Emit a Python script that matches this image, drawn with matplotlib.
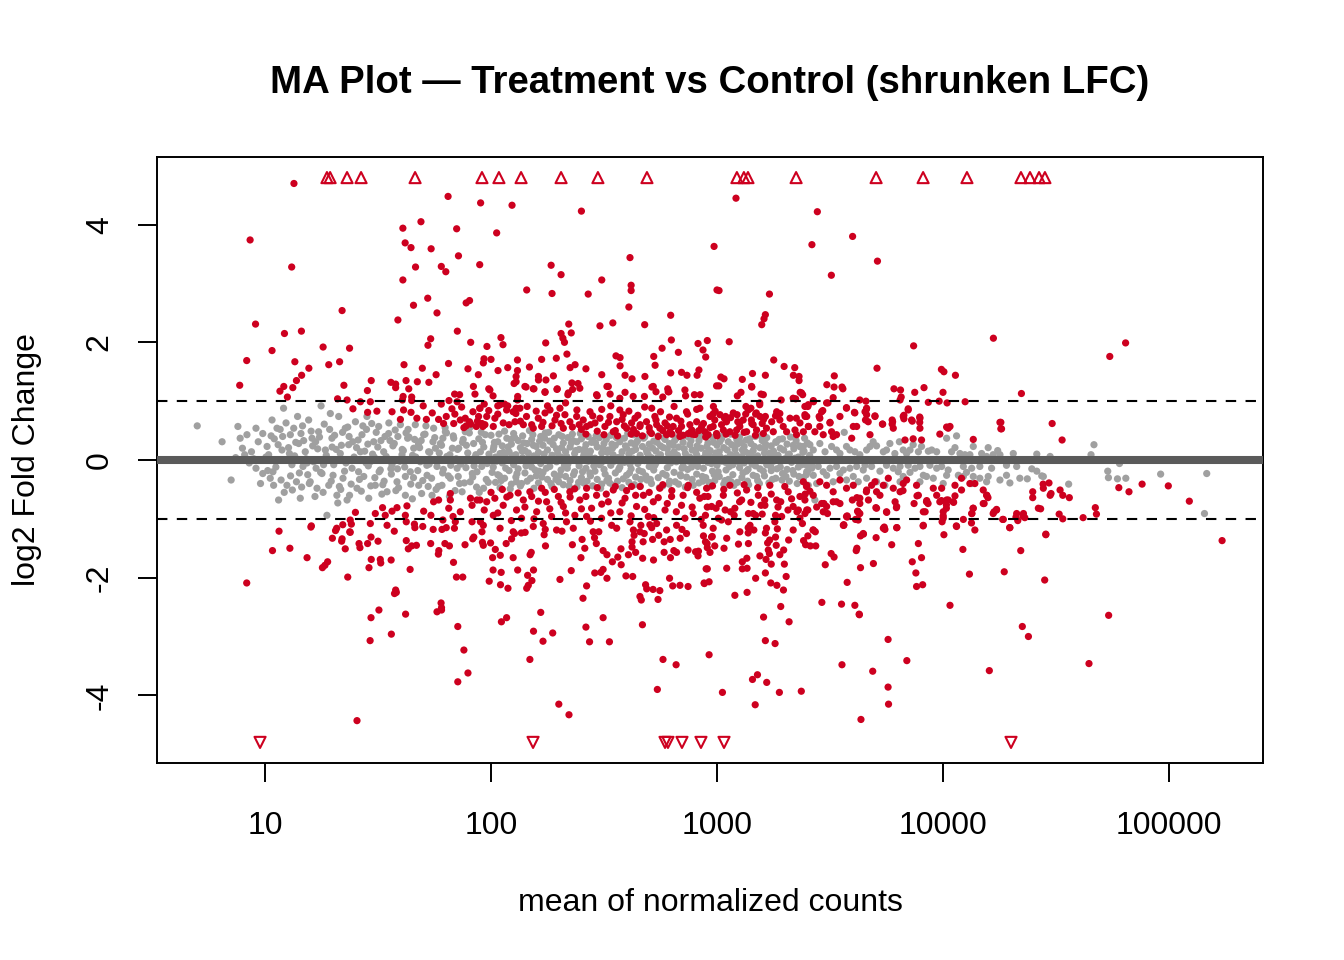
import numpy as np
import matplotlib
matplotlib.use("Agg")
import matplotlib.pyplot as plt
from matplotlib.ticker import NullLocator

plt.rcParams['font.family'] = ['Liberation Sans', 'DejaVu Sans']
plt.rcParams['axes.unicode_minus'] = False

# values: (log10 of mean normalized count, log2 fold change)

# genes beyond the y limit, drawn as open triangles at the limit
lfc_cap = 4.8
capped_up_log10 = [1.274, 1.288, 1.363, 1.425, 1.664, 1.960, 2.035, 2.133, 2.310, 2.473, 2.690,
                   3.088, 3.119, 3.137, 3.350, 3.704, 3.912, 4.106, 4.345, 4.385, 4.425, 4.451]
capped_down_log10 = [0.978, 2.186, 2.770, 2.783, 2.845, 2.929, 3.031, 4.301]

# not significant (grey)
nonsig_low = [
    (0.70, 0.58), (0.81, 0.31), (0.85, -0.34), (0.88, 0.57), (0.89, 0.37), (0.90, 0.20), (0.92, 0.43),
    (0.91, 0.09), (0.94, 0.14), (0.96, 0.54), (0.96, -0.14), (0.97, 0.31), (0.99, 0.45), (0.99, -0.23),
    (0.93, -0.05), (0.95, 0.02), (0.98, -0.40), (0.87, 0.04),
    (1.009, 0.23), (1.016, 0.09), (1.031, 0.68), (1.038, -0.43), (1.053, 0.54), (1.06, -0.68), (1.075, 0.17),
    (1.082, 0.88), (1.09, 0.0), (1.097, -0.43), (1.112, 0.43), (1.119, -0.08), (1.127, 0.54), (1.139, -0.37),
    (1.149, 0.28), (1.156, -0.65), (1.168, -0.11), (1.178, 0.14), (1.193, 0.68), (1.20, -0.37), (1.208, 0.37),
    (1.215, -0.03), (1.23, -0.48), (1.237, 0.48), (1.248, 0.92), (1.252, -0.23), (1.267, 0.17), (1.274, -0.94),
    (1.282, -0.43), (1.289, 0.79), (1.296, 0.37), (1.304, -0.08), (1.318, -0.60), (1.326, 0.74), (1.333, 0.11),
    (1.345, -0.31), (1.355, 0.54), (1.363, -0.68), (1.37, 0.26), (1.385, -0.14), (1.40, 0.65), (1.407, -0.48),
    (1.422, 0.14), (1.429, 0.43), (1.437, -0.28), (1.451, 0.74), (1.459, -0.65), (1.466, -0.03), (1.481, 0.31),
    (1.488, -0.43), (1.503, 0.57), (1.51, -0.17), (1.525, 0.14), (1.54, -0.54), (1.547, 0.45), (1.562, -0.08),
    (1.572, 0.28), (1.584, -0.37), (1.599, 0.60), (1.606, 0.09), (1.621, -0.60), (1.631, 0.37), (1.643, -0.20),
    (1.658, 0.20), (1.665, 0.60), (1.68, -0.43), (1.687, -0.03), (1.702, 0.43), (1.717, -0.26), (1.724, 0.14),
    (1.739, -0.60), (1.746, 0.54), (1.761, -0.11), (1.776, 0.28), (1.783, -0.43), (1.798, 0.48), (1.805, 0.06),
    (1.82, -0.31), (1.835, 0.37), (1.85, -0.14), (1.857, 0.20), (1.872, -0.54), (1.886, 0.48), (1.894, 0.0),
    (1.908, -0.37), (1.923, 0.28), (1.938, -0.20), (1.953, 0.14), (1.967, -0.48), (1.975, 0.43),
    (1.004, 0.05), (1.023, -0.31), (1.041, 0.36), (1.048, -0.12), (1.067, 0.52), (1.085, -0.55), (1.104, 0.21),
    (1.113, -0.27), (1.131, 0.07), (1.144, 0.74), (1.162, -0.46), (1.171, 0.33), (1.186, -0.05), (1.204, 0.49),
    (1.221, -0.62), (1.233, 0.19), (1.246, -0.21), (1.262, 0.61), (1.278, 0.02), (1.293, -0.36), (1.308, 0.42),
    (1.322, -0.73), (1.338, 0.25), (1.352, -0.19), (1.366, 0.56), (1.381, -0.41), (1.394, 0.05), (1.412, 0.34),
    (1.426, -0.53), (1.441, 0.15), (1.457, -0.10), (1.472, 0.62), (1.486, -0.30), (1.499, 0.22), (1.517, -0.58),
    (1.531, 0.40), (1.545, 0.01), (1.559, -0.24), (1.576, 0.51), (1.591, -0.47), (1.607, 0.18), (1.618, -0.12),
    (1.637, 0.39), (1.652, -0.66), (1.667, 0.05), (1.679, 0.27), (1.698, -0.35), (1.712, 0.58), (1.726, -0.07),
    (1.743, 0.31), (1.757, -0.50), (1.771, 0.12), (1.786, -0.22), (1.803, 0.46), (1.816, -0.62), (1.829, 0.20),
    (1.846, 0.02), (1.861, -0.40), (1.877, 0.35), (1.889, -0.13), (1.906, 0.55), (1.919, -0.29), (1.933, 0.09),
    (1.948, -0.55), (1.962, 0.30), (1.983, -0.06),
    (1.405, 0.21), (1.418, -0.33), (1.433, 0.58), (1.447, -0.05), (1.455, 0.27), (1.468, -0.44), (1.476, 0.10),
    (1.492, 0.47), (1.505, -0.20), (1.513, 0.33), (1.527, -0.36), (1.536, 0.06), (1.548, 0.63), (1.557, -0.15),
    (1.566, 0.24), (1.579, -0.52), (1.588, 0.40), (1.597, -0.02), (1.612, 0.16), (1.621, -0.28), (1.633, 0.52),
    (1.645, -0.41), (1.653, 0.08), (1.662, 0.35), (1.676, -0.18), (1.684, 0.21), (1.693, -0.57), (1.708, 0.44),
    (1.716, -0.09), (1.729, 0.13), (1.737, -0.31), (1.751, 0.38), (1.758, 0.00), (1.767, -0.45), (1.781, 0.25),
    (1.789, -0.16), (1.797, 0.55), (1.811, -0.27), (1.818, 0.09), (1.833, 0.41), (1.841, -0.52), (1.852, 0.18),
    (1.866, -0.07), (1.874, 0.30), (1.882, -0.39), (1.897, 0.12), (1.904, 0.46), (1.917, -0.23), (1.928, 0.04),
    (1.936, -0.46), (1.946, 0.36), (1.959, -0.11), (1.968, 0.22), (1.979, -0.33), (1.991, 0.10),
    (1.012, -0.18), (1.027, 0.41), (1.044, -0.02), (1.058, 0.26), (1.071, -0.34), (1.093, 0.63), (1.108, 0.11),
    (1.121, -0.51), (1.136, 0.30), (1.152, -0.22), (1.166, 0.58), (1.181, 0.02), (1.196, -0.40), (1.211, 0.24),
    (1.226, -0.14), (1.241, 0.39), (1.257, -0.55), (1.271, 0.08), (1.286, 0.52), (1.301, -0.26), (1.315, 0.18),
    (1.329, -0.45), (1.343, 0.47), (1.358, -0.05), (1.374, -0.60), (1.388, 0.31),
    (1.035, -0.20), (1.078, 0.40), (1.117, -0.02), (1.159, 0.45), (1.189, -0.25), (1.224, 0.31), (1.259, -0.08),
    (1.297, 0.22), (1.335, -0.50), (1.372, 0.40), (1.414, -0.20), (1.449, 0.52), (1.483, 0.05), (1.521, -0.42),
    (1.553, 0.33), (1.586, -0.15), (1.624, 0.46), (1.657, -0.30), (1.691, 0.33), (1.722, -0.45), (1.754, 0.20),
    (1.787, 0.37), (1.822, -0.09), (1.855, -0.28), (1.891, 0.25), (1.925, -0.10), (1.957, 0.47), (1.988, -0.38),
]

nonsig_mid = [
    (2.00, 0.42), (2.01, -0.12), (2.01, 0.18), (2.02, -0.38), (2.02, 0.05), (2.03, 0.31), (2.03, -0.25),
    (2.04, 0.11), (2.04, -0.47), (2.05, 0.24), (2.05, -0.05), (2.06, 0.49), (2.06, -0.31), (2.07, 0.02),
    (2.07, 0.37), (2.08, -0.18), (2.08, 0.14), (2.09, -0.41), (2.09, 0.27), (2.10, -0.08), (2.10, 0.45),
    (2.11, -0.29), (2.11, 0.09), (2.12, 0.33), (2.12, -0.15), (2.13, 0.21), (2.13, -0.44), (2.14, 0.04),
    (2.14, 0.41), (2.15, -0.22), (2.15, 0.16), (2.16, -0.36), (2.16, 0.28), (2.17, -0.02), (2.17, 0.50),
    (2.18, -0.12), (2.18, 0.35), (2.19, -0.48), (2.19, 0.07), (2.20, 0.23), (2.20, -0.27),
    (2.21, 0.13), (2.21, -0.39), (2.22, 0.40), (2.22, -0.06), (2.23, 0.25), (2.23, -0.21), (2.24, 0.01),
    (2.24, 0.46), (2.25, -0.33), (2.25, 0.17), (2.26, -0.11), (2.26, 0.32), (2.27, -0.45), (2.27, 0.08),
    (2.28, 0.37), (2.28, -0.24), (2.29, 0.19), (2.29, -0.03), (2.30, -0.37), (2.30, 0.43),
    (2.31, 0.05), (2.31, -0.17), (2.32, 0.29), (2.32, -0.42), (2.33, 0.14), (2.33, -0.28), (2.34, 0.38),
    (2.34, -0.07), (2.35, 0.22), (2.35, -0.35), (2.36, 0.01), (2.36, 0.44), (2.37, -0.20), (2.37, 0.11),
    (2.38, -0.46), (2.38, 0.31), (2.39, -0.10), (2.39, 0.18), (2.40, -0.30), (2.40, 0.36),
    (2.41, 0.07), (2.41, -0.39), (2.42, 0.26), (2.42, -0.14), (2.43, 0.40), (2.43, -0.02), (2.44, -0.27),
    (2.44, 0.15), (2.45, 0.33), (2.45, -0.44), (2.46, 0.03), (2.46, -0.19), (2.47, 0.22), (2.47, -0.33),
    (2.48, 0.38), (2.48, -0.08), (2.49, 0.12), (2.49, -0.41), (2.50, 0.28), (2.50, -0.16),
    (2.51, 0.00), (2.51, 0.35), (2.52, -0.31), (2.52, 0.17), (2.53, -0.09), (2.53, 0.42), (2.54, -0.43),
    (2.54, 0.09), (2.55, 0.25), (2.55, -0.22), (2.56, 0.04), (2.56, -0.36), (2.57, 0.31), (2.57, -0.12),
    (2.58, 0.14), (2.58, -0.47), (2.59, 0.37), (2.59, -0.04), (2.60, 0.20), (2.60, -0.26),
    (2.61, -0.38), (2.61, 0.10), (2.62, 0.29), (2.62, -0.15), (2.63, 0.02), (2.63, 0.43), (2.64, -0.29),
    (2.64, 0.18), (2.65, -0.06), (2.65, 0.34), (2.66, -0.45), (2.66, 0.08), (2.67, 0.23), (2.67, -0.20),
    (2.68, -0.01), (2.68, 0.39), (2.69, -0.34), (2.69, 0.13), (2.70, 0.27), (2.70, -0.11),
    (2.71, 0.04), (2.71, -0.40), (2.72, 0.32), (2.72, -0.17), (2.73, 0.15), (2.73, -0.05), (2.74, 0.41),
    (2.74, -0.30), (2.75, 0.09), (2.75, 0.24), (2.76, -0.23), (2.76, -0.44), (2.77, 0.35), (2.77, 0.00),
    (2.78, 0.19), (2.78, -0.13), (2.79, -0.36), (2.79, 0.28), (2.80, 0.06), (2.80, 0.44),
    (2.81, -0.21), (2.81, 0.14), (2.82, -0.03), (2.82, 0.37), (2.83, -0.41), (2.83, 0.22), (2.84, 0.01),
    (2.84, -0.27), (2.85, 0.30), (2.85, -0.10), (2.86, 0.11), (2.86, -0.46), (2.87, 0.40), (2.87, -0.16),
    (2.88, 0.05), (2.88, 0.26), (2.89, -0.33), (2.89, 0.17), (2.90, -0.07), (2.90, 0.47),
    (2.91, -0.24), (2.91, 0.09), (2.92, 0.33), (2.92, -0.39), (2.93, 0.02), (2.93, 0.20), (2.94, -0.14),
    (2.94, 0.42), (2.95, -0.30), (2.95, 0.12), (2.96, -0.04), (2.96, 0.29), (2.97, -0.45), (2.97, 0.16),
    (2.98, 0.38), (2.98, -0.19), (2.99, 0.06), (2.99, -0.35), (3.00, 0.25), (3.00, -0.09),
    (3.01, 0.14), (3.01, -0.28), (3.02, 0.36), (3.02, -0.02), (3.03, -0.41), (3.03, 0.21), (3.04, 0.03),
    (3.04, -0.17), (3.05, 0.31), (3.05, -0.33), (3.06, 0.09), (3.06, 0.44), (3.07, -0.08), (3.07, -0.25),
    (3.08, 0.18), (3.08, 0.01), (3.09, -0.38), (3.09, 0.27), (3.10, -0.13), (3.10, 0.39),
    (3.11, 0.06), (3.11, -0.30), (3.12, 0.23), (3.12, -0.05), (3.13, 0.34), (3.13, -0.19), (3.14, 0.11),
    (3.14, -0.42), (3.15, 0.00), (3.15, 0.28), (3.16, -0.26), (3.16, 0.16), (3.17, -0.10), (3.17, 0.40),
    (3.18, -0.35), (3.18, 0.07), (3.19, 0.21), (3.19, -0.15), (3.20, -0.01), (3.20, 0.33),
    (3.21, -0.27), (3.21, 0.12), (3.22, 0.38), (3.22, -0.08), (3.23, 0.03), (3.23, -0.39), (3.24, 0.24),
    (3.24, -0.18), (3.25, 0.15), (3.25, -0.02), (3.26, 0.31), (3.26, -0.31), (3.27, 0.08), (3.28, -0.12),
    (3.28, 0.20), (3.29, -0.23), (3.29, 0.36), (3.30, 0.02),
    (3.31, -0.16), (3.31, 0.27), (3.32, 0.10), (3.32, -0.36), (3.33, -0.04), (3.34, 0.19), (3.34, -0.24),
    (3.35, 0.33), (3.36, 0.05), (3.36, -0.12), (3.37, 0.22), (3.38, -0.30), (3.38, 0.13), (3.39, -0.02),
    (3.40, 0.29), (3.40, -0.20), (3.41, 0.08), (3.42, -0.09),
    (2.005, -0.21), (2.015, 0.30), (2.025, -0.02), (2.035, 0.44), (2.045, -0.35), (2.055, 0.13), (2.065, -0.14),
    (2.075, 0.22), (2.085, -0.49), (2.095, 0.07), (2.105, 0.38), (2.115, -0.23), (2.125, 0.00), (2.135, -0.40),
    (2.145, 0.29), (2.155, -0.10), (2.165, 0.12), (2.175, -0.31), (2.185, 0.43), (2.195, -0.17), (2.205, 0.04),
    (2.215, 0.32), (2.225, -0.29), (2.235, 0.10), (2.245, -0.14), (2.255, 0.47), (2.265, -0.40), (2.275, 0.26),
    (2.285, -0.01), (2.295, 0.12), (2.305, -0.26), (2.315, 0.40), (2.325, -0.09), (2.335, 0.06), (2.345, -0.44),
    (2.355, 0.29), (2.365, -0.25), (2.375, 0.16), (2.385, -0.03), (2.395, 0.45), (2.405, -0.20), (2.415, 0.19),
    (2.425, -0.36), (2.435, 0.08), (2.445, 0.30), (2.455, -0.10), (2.465, 0.41), (2.475, -0.01), (2.485, -0.48),
    (2.495, 0.21), (2.505, -0.24), (2.515, 0.13), (2.525, -0.39), (2.535, 0.27), (2.545, -0.02), (2.555, 0.38),
    (2.565, -0.16), (2.575, 0.06), (2.585, -0.32), (2.595, 0.24), (2.605, 0.45), (2.615, -0.07), (2.625, 0.15),
    (2.635, -0.42), (2.645, 0.31), (2.655, -0.18), (2.665, 0.00), (2.675, 0.37), (2.685, -0.27), (2.695, 0.10),
    (2.705, -0.33), (2.715, 0.20), (2.725, -0.09), (2.735, 0.30), (2.745, -0.47), (2.755, 0.02), (2.765, 0.38),
    (2.775, -0.26), (2.785, 0.11), (2.795, -0.05), (2.805, 0.25), (2.815, -0.37), (2.825, 0.08), (2.835, 0.42),
    (2.845, -0.14), (2.855, 0.19), (2.865, -0.29), (2.875, -0.02), (2.885, 0.33), (2.895, -0.43), (2.905, 0.15),
    (2.915, -0.11), (2.925, 0.39), (2.935, -0.28), (2.945, 0.05), (2.955, 0.23), (2.965, -0.38), (2.975, -0.06),
    (2.985, 0.30), (2.995, 0.12), (3.005, -0.20), (3.015, 0.05), (3.025, 0.41), (3.035, -0.35), (3.045, 0.17),
    (3.055, -0.11), (3.065, 0.26), (3.075, -0.43), (3.085, 0.09), (3.095, -0.03), (3.105, 0.30), (3.115, -0.22),
    (3.125, 0.14), (3.135, -0.36), (3.145, 0.36), (3.155, -0.07), (3.165, 0.23), (3.175, -0.28), (3.185, 0.02),
    (3.195, 0.41), (3.205, -0.19), (3.215, 0.27), (3.225, -0.04), (3.235, 0.12), (3.245, -0.33), (3.255, 0.06),
    (3.265, -0.15), (3.275, 0.35), (3.285, -0.02), (3.295, 0.17), (3.305, -0.28), (3.315, 0.09), (3.325, 0.39),
    (3.335, -0.18), (3.345, 0.03), (3.355, -0.40), (3.365, 0.24), (3.375, -0.08), (3.385, 0.15), (3.395, -0.25),
    (2.0125, 0.23), (2.0375, -0.27), (2.0625, 0.06), (2.0875, 0.35), (2.1125, -0.37), (2.1375, 0.15),
    (2.1625, -0.05), (2.1875, 0.25), (2.2125, -0.19), (2.2375, 0.37), (2.2625, 0.02), (2.2875, -0.33),
    (2.3125, 0.21), (2.3375, -0.14), (2.3625, 0.33), (2.3875, -0.38), (2.4125, 0.11), (2.4375, -0.22),
    (2.4625, 0.29), (2.4875, -0.05), (2.5125, -0.35), (2.5375, 0.20), (2.5625, 0.40), (2.5875, 0.00),
    (2.6125, -0.22), (2.6375, 0.26), (2.6625, -0.33), (2.6875, 0.17), (2.7125, -0.12), (2.7375, 0.04),
    (2.7625, 0.21), (2.7875, -0.41), (2.8125, 0.33), (2.8375, -0.25), (2.8625, 0.02), (2.8875, -0.12),
    (2.9125, 0.24), (2.9375, -0.36), (2.9625, 0.10), (2.9875, -0.25), (3.0125, 0.31), (3.0375, -0.04),
    (3.0625, -0.37), (3.0875, 0.35), (3.1125, 0.17), (3.1375, -0.16), (3.1625, 0.05), (3.1875, -0.40),
    (3.2125, 0.20), (3.2375, -0.11), (3.2625, 0.30), (3.2875, -0.34), (3.3125, 0.00), (3.3375, 0.25),
    (3.3625, -0.28), (3.3875, 0.37),
]

nonsig_high = [
    (3.563, 0.47), (3.691, 0.31), (3.706, 0.24), (3.765, 0.28), (3.807, 0.31), (3.868, 0.26), (3.854, 0.17),
    (3.935, 0.15), (4.016, 0.37), (4.06, 0.41), (4.053, 0.21), (4.134, 0.23), (4.20, 0.21), (4.242, 0.16),
    (4.119, 0.09), (3.397, -0.20), (3.426, -0.26), (3.485, -0.26), (3.544, -0.23), (3.603, -0.28), (3.647, -0.17),
    (3.721, -0.19), (3.802, -0.20), (3.854, -0.21), (3.913, -0.26), (3.957, -0.31), (4.001, -0.40), (4.068, -0.26),
    (4.104, -0.21), (4.134, -0.28), (4.163, -0.31), (4.193, -0.37), (4.281, -0.26), (4.296, -0.39), (4.34, -0.31),
    (3.433, -0.68), (3.81, -0.37),
    (3.382, 0.23), (3.411, 0.26), (3.426, 0.17), (3.455, 0.28), (3.478, 0.14), (3.507, 0.23), (3.529, 0.17),
    (3.544, 0.11), (3.573, 0.23), (3.588, 0.17), (3.61, 0.14), (3.632, 0.09), (3.662, 0.17), (3.677, 0.23),
    (3.736, 0.14), (3.75, 0.17), (3.787, 0.11), (3.824, 0.17), (3.839, 0.11), (3.891, 0.14), (3.905, 0.23),
    (3.95, 0.17), (3.972, 0.14), (4.038, 0.14), (4.075, 0.11), (4.097, 0.09), (4.171, 0.11), (4.193, 0.06),
    (4.222, 0.09), (4.252, 0.09), (4.311, 0.11),
    (3.397, -0.09), (3.419, -0.14), (3.448, -0.11), (3.47, -0.20), (3.50, -0.14), (3.529, -0.11), (3.559, -0.17),
    (3.588, -0.14), (3.618, -0.11), (3.655, -0.09), (3.684, -0.11), (3.75, -0.09), (3.78, -0.14), (3.81, -0.11),
    (3.846, -0.09), (3.876, -0.14), (3.898, -0.11), (3.942, -0.09), (3.972, -0.14), (3.994, -0.11), (4.023, -0.17),
    (4.09, -0.11), (4.127, -0.14), (4.163, -0.11), (4.215, -0.14), (4.281, -0.09), (4.326, -0.11),
    (3.382, -0.31), (3.404, -0.43), (3.441, -0.40), (3.514, -0.37), (3.573, -0.34), (3.625, -0.37), (3.662, -0.31),
    (3.706, -0.37), (3.743, -0.43), (3.824, -0.28), (3.898, -0.37), (3.927, -0.28), (4.016, -0.26), (4.09, -0.28),
    (4.127, -0.40), (4.20, -0.28), (4.252, -0.34),
    (4.668, 0.26), (4.415, 0.10), (4.474, 0.06), (4.655, 0.09), (4.781, -0.06), (4.393, -0.15), (4.415, -0.19),
    (4.437, -0.27), (4.444, -0.28), (4.373, -0.32), (4.556, -0.41), (4.729, -0.19), (4.732, -0.30), (4.772, -0.32),
    (4.809, -0.31), (4.963, -0.24), (5.167, -0.23), (5.157, -0.91),
]

# significant (red), positive fold change
sig_up = [
    (1.128, 4.70), (1.81, 4.48), (1.954, 4.37), (2.093, 4.33), (2.40, 4.23), (1.69, 4.05), (1.61, 3.94),
    (1.848, 3.93), (2.025, 3.86), (0.934, 3.74), (1.62, 3.69), (1.646, 3.61), (1.735, 3.59), (2.987, 3.63),
    (1.856, 3.47), (2.615, 3.44), (1.118, 3.28), (1.666, 3.28), (1.78, 3.29), (1.80, 3.20), (1.95, 3.32),
    (2.266, 3.31), (2.31, 3.15), (1.61, 3.06), (2.49, 3.06), (2.62, 2.97), (2.62, 2.88), (2.158, 2.89),
    (2.27, 2.83), (2.43, 2.82), (3.0, 2.89), (1.72, 2.75), (1.89, 2.67), (1.905, 2.71), (1.657, 2.63),
    (2.61, 2.60), (3.084, 4.45), (3.444, 4.22), (3.6, 3.8), (3.42, 3.66), (3.71, 3.38), (3.506, 3.14),
    (3.009, 2.88), (3.232, 2.82),
    (1.341, 2.54), (1.761, 2.50), (1.588, 2.38), (2.795, 2.46), (0.958, 2.31), (1.086, 2.15), (1.161, 2.19),
    (1.851, 2.19), (2.482, 2.28), (2.539, 2.33), (2.68, 2.30), (2.344, 2.31), (2.31, 2.15), (2.355, 2.16),
    (2.318, 2.07), (2.325, 2.0), (1.733, 2.06), (1.721, 1.95), (2.044, 2.08), (2.053, 1.96), (1.91, 2.0),
    (2.242, 1.99), (2.798, 2.04), (2.916, 1.98), (2.957, 2.03), (2.938, 1.87), (2.95, 1.75), (1.257, 1.92),
    (1.374, 1.90), (1.031, 1.86), (0.919, 1.69), (1.132, 1.67), (1.282, 1.62), (1.33, 1.67), (1.194, 1.56),
    (1.162, 1.44), (1.139, 1.35), (1.982, 1.93), (1.969, 1.72), (1.966, 1.65), (2.0, 1.71), (2.117, 1.70),
    (2.224, 1.71), (2.289, 1.73), (2.372, 1.62), (2.336, 1.80), (2.35, 1.57), (2.42, 1.55), (2.553, 1.77),
    (2.571, 1.74), (2.571, 1.60), (2.72, 1.76), (2.726, 1.61), (2.757, 1.90), (2.829, 1.83), (1.696, 1.56),
    (1.615, 1.62), (1.812, 1.64), (1.898, 1.55), (2.074, 1.57), (2.031, 1.52), (2.17, 1.58), (2.117, 1.52),
    (2.49, 1.45), (2.593, 1.44), (2.624, 1.38), (2.681, 1.42), (2.795, 1.48), (2.843, 1.49), (2.867, 1.44),
    (2.912, 1.44), (2.92, 1.53), (1.757, 1.45), (1.944, 1.45), (2.111, 1.42), (2.21, 1.42), (2.21, 1.36),
    (2.276, 1.43), (2.111, 1.33), (2.102, 1.30), (2.155, 1.24), (2.19, 1.21), (2.243, 1.36), (2.239, 1.15),
    (2.292, 1.20), (2.358, 1.31), (2.361, 1.20), (2.385, 1.30), (2.34, 1.11), (2.513, 1.25), (2.527, 1.12),
    (2.593, 1.15), (2.712, 1.24), (2.73, 1.16), (2.782, 1.21), (2.787, 1.16), (2.76, 1.07), (2.861, 1.09),
    (2.9, 1.11), (2.925, 1.11), (2.679, 1.08), (2.47, 1.09), (2.998, 1.26), (1.99, 1.21), (2.009, 1.09),
    (1.922, 1.25), (1.929, 1.12), (2.03, 0.92), (2.074, 0.92), (2.118, 1.08), (2.117, 1.02), (2.111, 0.88),
    (1.083, 1.25), (1.066, 1.17), (1.123, 1.23), (1.099, 1.07), (1.349, 1.27), (1.47, 1.35), (1.453, 1.18),
    (1.557, 1.32), (1.578, 1.29), (1.578, 1.23), (1.624, 1.35), (1.636, 1.21), (1.674, 1.33), (1.725, 1.32),
    (1.611, 1.08), (1.608, 1.02), (1.649, 1.07), (1.649, 1.01), (1.839, 1.12), (1.861, 1.11), (1.814, 1.01),
    (3.214, 2.47), (3.208, 2.40), (3.198, 2.30), (3.054, 2.01), (3.251, 1.70), (3.297, 1.59), (3.344, 1.57),
    (3.338, 1.44), (3.363, 1.42), (3.363, 1.35), (3.214, 1.44), (3.157, 1.47), (3.112, 1.37), (3.017, 1.41),
    (3.031, 1.38), (3.008, 1.26), (3.154, 1.24), (3.106, 1.15), (3.09, 1.09), (3.195, 1.12), (3.368, 1.15),
    (3.379, 1.11), (3.348, 1.04), (3.284, 1.02), (3.519, 1.43), (3.486, 1.28), (3.518, 1.24), (3.553, 1.24),
    (3.557, 1.21), (3.514, 1.06), (3.708, 1.56), (3.87, 1.94), (3.783, 1.21), (3.812, 1.19), (3.815, 1.07),
    (3.875, 1.15), (3.916, 1.23), (3.993, 1.54), (4.004, 1.50), (4.055, 1.44), (4.0, 1.15), (4.223, 2.07),
    (4.347, 1.13), (4.738, 1.76), (4.808, 1.99), (3.632, 1.02), (3.659, 1.0), (3.935, 0.98), (3.983, 1.0),
    (4.018, 0.97), (4.098, 0.99), (4.483, 0.62), (4.527, 0.34),
    (0.888, 1.27), (1.321, 1.04), (1.363, 1.02), (1.422, 0.99), (1.389, 0.87), (1.454, 0.81), (1.495, 0.83),
    (1.466, 0.99), (1.562, 0.82), (1.613, 0.85), (1.599, 0.69), (1.646, 0.81), (1.672, 0.71), (1.714, 0.69),
    (1.768, 0.69), (1.802, 0.74), (1.827, 0.87), (1.85, 0.99), (1.95, 0.88), (1.945, 0.74), (1.835, 0.62),
    (1.864, 0.68), (1.886, 0.71), (1.905, 0.65), (1.935, 0.57), (1.964, 0.57),
    (1.70, 0.92), (1.74, 0.80), (1.78, 0.95), (1.79, 0.62), (1.84, 0.78), (1.87, 0.90), (1.89, 0.58),
    (1.92, 0.82), (1.94, 0.66), (1.97, 0.95), (1.88, 0.55), (1.91, 0.61),
    (1.995, 1.19), (2.15, 1.25), (2.187, 1.21), (2.239, 1.16), (2.293, 1.21), (2.342, 1.14), (2.393, 1.22),
    (2.467, 1.11), (2.519, 1.25), (2.57, 1.05), (2.629, 1.08), (2.718, 1.25), (2.784, 1.16), (2.858, 1.19),
    (3.153, 1.25), (3.205, 1.11), (3.337, 1.05), (3.374, 1.14),
    (1.951, 0.88), (1.981, 0.74), (2.017, 0.71), (2.04, 0.94), (2.069, 0.85), (2.098, 0.82), (2.128, 0.88),
    (2.106, 0.65), (2.157, 0.74), (2.187, 0.54), (2.209, 0.71), (2.239, 0.80), (2.261, 0.85), (2.283, 0.68),
    (2.305, 0.88), (2.327, 0.77), (2.349, 0.65), (2.379, 0.74), (2.408, 0.68), (2.438, 0.82), (2.46, 0.63),
    (2.482, 0.71), (2.504, 0.57), (2.526, 0.74), (2.556, 0.65), (2.57, 0.85), (2.60, 0.54), (2.622, 0.63),
    (2.637, 0.71), (2.659, 0.57), (2.688, 0.65), (2.711, 0.88), (2.725, 0.74), (2.747, 0.54), (2.77, 0.63),
    (2.792, 0.48), (2.821, 0.71), (2.843, 0.57), (2.865, 0.82), (2.888, 0.51), (2.91, 0.65), (2.924, 0.88),
    (2.947, 0.48), (2.969, 0.74), (2.983, 0.57), (3.013, 0.77), (3.042, 0.65), (3.072, 0.80), (3.087, 0.51),
    (3.116, 0.68), (3.138, 0.85), (3.16, 0.60), (3.19, 0.74), (3.219, 0.54), (3.242, 0.65), (3.264, 0.82),
    (3.293, 0.57), (3.323, 0.71), (3.345, 0.51), (3.367, 0.63), (3.389, 0.77), (3.404, 0.94),
    (1.973, 0.60), (2.054, 0.63), (2.143, 0.60), (2.224, 0.57), (2.32, 0.54), (2.423, 0.57), (2.541, 0.48),
    (2.585, 0.77), (2.644, 0.45), (2.703, 0.48), (2.733, 0.60), (2.777, 0.43), (2.806, 0.57), (2.836, 0.40),
    (2.873, 0.45), (2.902, 0.43), (2.932, 0.57), (2.961, 0.43), (2.998, 0.45), (3.028, 0.51), (3.057, 0.48),
    (3.101, 0.57), (3.131, 0.48), (3.175, 0.51), (3.205, 0.45), (3.249, 0.48), (3.278, 0.68), (3.308, 0.48),
    (3.352, 0.43), (3.382, 0.48),
    (2.40, 0.52), (2.42, 0.44), (2.44, 0.60), (2.45, 0.75), (2.47, 0.49), (2.49, 0.86), (2.50, 0.43),
    (2.52, 0.64), (2.53, 0.92), (2.55, 0.50), (2.56, 0.41), (2.58, 0.69), (2.59, 0.58), (2.61, 0.83),
    (2.62, 0.44), (2.63, 0.52), (2.65, 0.76), (2.66, 0.60), (2.67, 0.41), (2.68, 0.90), (2.70, 0.55),
    (2.71, 0.45), (2.73, 0.68), (2.74, 0.40), (2.75, 0.82), (2.76, 0.50), (2.78, 0.58), (2.79, 0.73),
    (2.80, 0.44), (2.81, 0.91), (2.83, 0.50), (2.84, 0.66), (2.85, 0.42), (2.87, 0.78), (2.88, 0.60),
    (2.89, 0.44), (2.91, 0.86), (2.92, 0.50), (2.94, 0.62), (2.95, 0.39), (2.97, 0.55), (2.99, 0.68),
    (3.00, 0.41), (3.02, 0.60), (3.04, 0.44), (3.06, 0.72), (3.08, 0.42), (3.10, 0.63), (3.12, 0.47),
    (3.15, 0.88), (3.17, 0.42), (3.20, 0.62),
    (1.96, 0.62), (1.99, 0.84), (2.01, 0.57), (2.03, 0.78), (2.06, 0.95), (2.08, 0.60), (2.11, 0.79),
    (2.13, 0.66), (2.16, 0.91), (2.18, 0.60), (2.20, 0.83), (2.23, 0.64), (2.25, 0.92), (2.27, 0.58),
    (2.29, 0.76), (2.31, 0.62), (2.33, 0.97), (2.36, 0.56), (2.38, 0.85), (2.39, 0.60),
    (3.389, 0.91), (3.397, 0.74), (3.426, 1.01), (3.455, 0.71), (3.463, 0.82), (3.404, 0.57), (3.433, 0.48),
    (3.455, 0.57), (3.47, 0.43), (3.485, 0.97), (3.50, 0.63), (3.507, 0.48), (3.514, 0.40), (3.529, 0.43),
    (3.544, 0.74), (3.573, 0.88), (3.596, 0.37), (3.603, 0.57), (3.61, 0.80), (3.618, 0.57), (3.655, 0.82),
    (3.662, 0.88), (3.677, 0.43), (3.669, 0.65), (3.699, 0.74), (3.733, 0.61), (3.777, 0.65), (3.78, 0.54),
    (3.824, 0.74), (3.832, 0.34), (3.846, 0.85), (3.861, 0.68), (3.898, 0.71), (3.898, 0.54), (3.905, 0.34),
    (3.868, 0.36), (3.986, 0.44), (4.023, 0.54), (4.031, 0.57), (4.134, 0.35), (4.252, 0.64), (4.259, 0.53),
    (3.81, 1.02),
    (3.402, 0.91), (3.427, 0.99), (3.491, 0.97), (3.573, 0.89), (3.608, 0.81), (3.661, 0.86), (3.662, 0.77),
    (3.657, 0.68), (3.699, 0.75), (3.732, 0.61), (3.775, 0.68), (3.775, 0.61), (3.827, 0.76), (3.827, 0.70),
    (3.846, 0.87), (3.864, 0.66), (3.897, 0.73), (3.897, 0.64), (4.016, 0.56), (4.256, 0.64), (4.256, 0.53),
    (3.468, 0.84), (3.452, 0.74), (3.405, 0.57), (3.50, 0.64), (3.39, 0.74), (3.351, 0.71), (3.278, 0.79),
    (3.259, 0.75), (3.214, 0.74), (3.206, 0.69), (3.174, 0.80), (3.171, 0.78), (3.152, 0.68), (3.154, 0.62),
    (3.128, 0.91), (3.127, 0.78), (3.089, 0.77), (3.092, 0.65), (3.038, 0.74), (3.033, 0.71), (2.984, 0.91),
    (2.992, 0.83), (2.982, 0.78), (3.189, 0.97), (3.189, 0.94),
]

# significant (red), negative fold change
sig_down = [
    (1.469, -2.68), (1.504, -2.55), (1.622, -2.62), (1.761, -2.58), (1.781, -2.55), (1.465, -3.07),
    (1.559, -2.96), (1.853, -2.83), (1.88, -3.23), (1.898, -3.62), (1.853, -3.77), (1.407, -4.43),
    (2.046, -2.75), (2.069, -2.68), (2.22, -2.59), (2.188, -2.91), (2.273, -2.94), (2.23, -3.08),
    (2.172, -3.39), (2.30, -4.15), (2.345, -4.33), (2.42, -2.84), (2.496, -2.68), (2.436, -3.09),
    (2.524, -3.09), (2.67, -2.80), (2.736, -3.90), (2.761, -3.39), (2.819, -3.48), (2.965, -3.31),
    (3.206, -2.67), (3.319, -2.75), (3.214, -3.07), (3.257, -3.12), (3.63, -2.63), (3.757, -3.05),
    (3.84, -3.41), (3.553, -3.48), (3.689, -3.59), (3.179, -3.65), (3.157, -3.73), (3.22, -3.78),
    (3.024, -3.95), (3.276, -3.95), (3.373, -3.93), (3.169, -4.16), (3.757, -3.86), (3.759, -4.15),
    (3.637, -4.41), (4.205, -3.58), (4.351, -2.83), (4.378, -3.0), (4.646, -3.46), (4.733, -2.64),
    (0.919, -2.09), (1.062, -1.21), (1.033, -1.54), (1.11, -1.50), (1.205, -1.12), (1.186, -1.66),
    (1.254, -1.83), (1.277, -1.73), (1.265, -1.79), (1.366, -1.99), (1.298, -1.33), (1.312, -1.20),
    (1.317, -1.16), (1.341, -1.34), (1.339, -1.38), (1.355, -1.51), (1.377, -1.23), (1.344, -1.10),
    (1.382, -1.09), (1.416, -1.42), (1.42, -1.49), (1.454, -1.42), (1.469, -1.31), (1.5, -1.38),
    (1.47, -1.69), (1.46, -1.83), (1.51, -1.69), (1.512, -1.75), (1.558, -1.70), (1.578, -2.21),
    (1.573, -2.27), (1.581, -2.25), (1.642, -1.86), (1.625, -1.37), (1.634, -1.51), (1.649, -1.46),
    (1.67, -1.45), (1.698, -1.13), (1.663, -1.15), (1.733, -1.42), (1.769, -1.54), (1.767, -1.60),
    (1.796, -1.42), (1.816, -1.46), (1.834, -1.74), (1.847, -1.99), (1.875, -1.99), (1.885, -1.44),
    (1.779, -2.43), (1.781, -2.51),
    (1.744, -1.18), (1.783, -1.18), (1.838, -1.16), (1.919, -1.34), (1.924, -1.31), (1.962, -1.40),
    (1.966, -1.45), (1.998, -1.41), (2.019, -1.52), (2.041, -1.62), (2.007, -1.66), (2.045, -1.91),
    (2.009, -1.87), (1.992, -2.06), (2.042, -2.12), (2.075, -2.18), (2.098, -1.66), (2.118, -1.87),
    (2.158, -2.18), (2.165, -2.13), (2.181, -2.05), (2.162, -1.96), (2.188, -1.87), (2.178, -1.57),
    (2.173, -1.61), (2.067, -1.42), (2.091, -1.34), (2.104, -1.25), (2.134, -1.24), (2.151, -1.23),
    (2.241, -1.46), (2.314, -1.21), (2.24, -1.18), (2.235, -1.27), (2.36, -1.44), (2.403, -1.35),
    (2.415, -1.50), (2.398, -1.66), (2.355, -1.88), (2.305, -2.03), (2.423, -2.14), (2.407, -2.35),
    (2.458, -1.32), (2.466, -1.42), (2.477, -1.22), (2.496, -1.54), (2.513, -1.61), (2.496, -1.86),
    (2.459, -1.92), (2.486, -1.91), (2.513, -2.01), (2.537, -1.73), (2.576, -1.78), (2.561, -1.65),
    (2.575, -1.51), (2.608, -1.61), (2.624, -1.48), (2.624, -1.39), (2.63, -1.19), (2.633, -1.28),
    (2.663, -1.11), (2.703, -1.10), (2.678, -1.25), (2.673, -1.39), (2.715, -1.35), (2.711, -1.15),
    (2.742, -1.28), (2.766, -1.39), (2.793, -1.35), (2.837, -1.33), (2.845, -1.18), (2.809, -1.54),
    (2.766, -1.57), (2.794, -1.66), (2.821, -1.57), (2.872, -1.53), (2.905, -1.56), (2.916, -1.63),
    (2.918, -1.55), (2.719, -1.70), (2.671, -1.67), (2.64, -1.57), (2.597, -1.97), (2.627, -1.98),
    (2.684, -2.12), (2.689, -2.19), (2.717, -2.20), (2.747, -2.22), (2.659, -2.32), (2.665, -2.38),
    (2.739, -2.37), (2.79, -2.01), (2.804, -2.14), (2.836, -2.13), (2.872, -2.15), (2.943, -2.09),
    (2.952, -1.85), (2.956, -1.42), (2.94, -1.29), (2.976, -1.31), (2.99, -1.46),
    (2.979, -1.30), (2.949, -1.39), (2.957, -1.49), (2.969, -1.57), (3.043, -1.33), (3.031, -1.50),
    (3.095, -1.43), (3.138, -1.24), (3.138, -1.15), (3.163, -1.19), (3.139, -1.42), (3.214, -1.24),
    (3.224, -1.41), (3.233, -1.36), (3.259, -1.31), (3.262, -1.45), (3.227, -1.53), (3.232, -1.59),
    (3.19, -1.63), (3.217, -1.69), (3.24, -1.77), (3.295, -1.53), (3.278, -1.61), (3.298, -1.77),
    (3.317, -1.36), (3.267, -1.17), (3.132, -1.67), (3.112, -1.73), (3.133, -1.84), (3.112, -1.85),
    (3.043, -1.84), (2.957, -1.85), (2.944, -2.10), (2.965, -2.07), (3.171, -2.01), (3.214, -1.92),
    (3.238, -2.09), (3.265, -2.13), (3.294, -2.21), (3.306, -1.98), (3.079, -2.30), (3.133, -2.25),
    (3.282, -2.49), (3.383, -1.37), (3.402, -1.29), (3.392, -1.44), (3.437, -1.46), (3.413, -1.46),
    (3.425, -1.19), (3.435, -1.22), (3.479, -1.78), (3.505, -1.59), (3.518, -1.65), (3.576, -2.08),
    (3.464, -2.42), (3.551, -2.45), (3.61, -2.47), (3.629, -2.62), (3.561, -1.10), (3.635, -1.29),
    (3.648, -1.26), (3.619, -1.50), (3.616, -1.54), (3.635, -1.83), (3.692, -1.76), (3.704, -1.32),
    (3.773, -1.44), (3.74, -1.14), (3.743, -1.18), (3.796, -1.15), (3.891, -1.42), (3.905, -1.66),
    (3.864, -1.73), (3.88, -1.92), (3.883, -2.15), (3.91, -2.12), (3.912, -1.12), (4.004, -1.27),
    (4.059, -1.12), (4.088, -1.52), (4.117, -1.94), (4.031, -2.47), (4.126, -1.07), (4.271, -1.90),
    (4.295, -1.15), (4.344, -1.54), (4.455, -1.27), (4.45, -2.04), (5.235, -1.37),
    (4.323, -0.97), (4.331, -1.03), (4.264, -1.01), (4.226, -0.88), (4.237, -0.84), (4.182, -0.74),
    (4.194, -0.60), (4.199, -0.64), (4.128, -0.91), (4.133, -0.82), (4.09, -1.01),
    (4.443, -0.41), (4.469, -0.39), (4.444, -0.48), (4.397, -0.54), (4.397, -0.64), (4.474, -0.60),
    (4.478, -0.57), (4.518, -0.51), (4.53, -0.60), (4.559, -0.64), (4.422, -0.82), (4.432, -0.83),
    (4.356, -0.91), (4.362, -0.98), (4.514, -0.92), (4.53, -1.00), (4.62, -0.98), (4.674, -0.81),
    (4.679, -0.92), (4.455, -1.26), (4.778, -0.47), (4.823, -0.54), (4.881, -0.41), (4.997, -0.44),
    (5.09, -0.70),
    (2.944, -0.62), (2.957, -0.80), (2.949, -0.94), (2.996, -0.82), (3.02, -1.02), (3.036, -0.85),
    (3.076, -0.94), (3.10, -0.71), (3.139, -0.91), (3.171, -0.94), (3.195, -0.77), (3.211, -0.68),
    (3.259, -0.94), (3.282, -0.71), (3.314, -0.85), (3.354, -0.88), (3.378, -1.08), (3.402, -0.85),
    (3.441, -0.80), (3.473, -0.74), (3.489, -0.91), (3.529, -0.71), (3.561, -1.11), (3.576, -0.97),
    (3.624, -0.88), (3.632, -0.74),
    (4.001, -0.95), (3.996, -1.05), (4.015, -0.82), (4.015, -0.76), (3.993, -0.69), (4.047, -0.72),
    (4.023, -0.68), (4.053, -0.61), (3.921, -0.88), (3.934, -0.74), (3.928, -0.69), (3.872, -0.74),
    (3.885, -0.61), (3.823, -0.52), (3.788, -0.71), (3.794, -0.81), (3.751, -0.89), (3.703, -0.81),
    (3.67, -0.68), (3.622, -0.87), (3.629, -0.91), (3.613, -1.01), (3.576, -0.95), (3.599, -0.68),
    (3.619, -0.64), (3.661, -0.54),
    (1.951, -0.68), (1.981, -0.71), (2.017, -0.65), (2.054, -0.77), (2.084, -0.60), (2.113, -0.85),
    (2.143, -0.68), (2.172, -0.54), (2.202, -0.88), (2.224, -0.48), (2.246, -0.71), (2.268, -0.96),
    (2.298, -0.62), (2.32, -0.79), (2.349, -0.54), (2.371, -0.94), (2.393, -0.68), (2.423, -0.48),
    (2.445, -0.82), (2.467, -0.60), (2.489, -0.99), (2.519, -0.71), (2.541, -0.51), (2.57, -0.88),
    (2.593, -0.65), (2.622, -0.45), (2.644, -0.79), (2.674, -0.60), (2.696, -0.96), (2.718, -0.71),
    (2.747, -0.48), (2.77, -0.85), (2.799, -0.62), (2.821, -1.11), (2.843, -0.77), (2.873, -0.43),
    (2.895, -0.91), (2.924, -0.65), (2.954, -0.48), (2.976, -0.79), (3.006, -0.99), (3.028, -0.60),
    (3.057, -0.43), (3.079, -0.82), (3.109, -0.68), (3.131, -0.51), (3.16, -0.91), (3.183, -0.60),
    (3.212, -0.77), (3.234, -0.43), (3.264, -0.68), (3.286, -0.96), (3.315, -0.54), (3.337, -0.79),
    (3.367, -0.62), (3.396, -0.45),
    (1.966, -1.11), (2.04, -1.16), (2.098, -1.22), (2.187, -1.13), (2.29, -1.19), (2.364, -1.16),
    (2.452, -1.22), (2.556, -1.16), (2.659, -1.22), (2.777, -1.19), (2.865, -1.25), (2.983, -1.16),
    (3.101, -1.22), (3.219, -1.16), (3.337, -1.19),
    (2.01, -0.94), (2.135, -0.99), (2.231, -1.08), (2.334, -1.05), (2.423, -0.96), (2.534, -1.11),
    (2.615, -1.05), (2.733, -1.08), (2.858, -0.99), (2.939, -1.11), (3.05, -1.05), (3.146, -1.11),
    (3.256, -1.05), (3.367, -0.99),
    (1.97, -0.85), (2.00, -0.55), (2.03, -0.90), (2.05, -0.50), (2.07, -0.63), (2.09, -1.03),
    (2.12, -0.56), (2.15, -0.80), (2.18, -0.62), (2.19, -1.00), (2.21, -0.70), (2.24, -0.55),
    (2.26, -0.83), (2.28, -0.50), (2.31, -0.72), (2.33, -0.90), (2.35, -0.63), (2.37, -0.49),
    (2.40, -0.83), (2.42, -0.62), (2.44, -1.04), (2.47, -0.47), (2.49, -0.75), (2.51, -0.58),
    (2.53, -0.90), (2.55, -0.45), (2.58, -0.73), (2.60, -0.52), (2.62, -0.95), (2.64, -0.60),
    (2.66, -0.45), (2.68, -0.84), (2.70, -0.55), (2.72, -0.98), (2.74, -0.64), (2.76, -0.42),
    (2.78, -0.74), (2.80, -0.52), (2.82, -0.88), (2.85, -0.60), (2.87, -0.47), (2.89, -0.80),
    (2.91, -0.55), (2.93, -1.01), (2.96, -0.62), (2.98, -0.44), (3.01, -0.74), (3.03, -0.50),
    (3.06, -0.88), (3.09, -0.56), (3.12, -0.42), (3.15, -0.72), (3.18, -0.47), (3.20, -0.92),
    (3.24, -0.58), (3.27, -0.80), (3.30, -0.45), (3.33, -0.66), (3.36, -0.85), (3.39, -0.58),
    (3.382, -0.37), (3.397, -0.43), (3.411, -0.53), (3.426, -0.60), (3.389, -0.68), (3.455, -0.37),
    (3.485, -0.43), (3.514, -0.54), (3.544, -0.34), (3.573, -0.48), (3.603, -0.43), (3.632, -0.65),
    (3.662, -0.51), (3.684, -0.43), (3.706, -0.54), (3.721, -0.60), (3.699, -0.37), (3.736, -0.43),
    (3.758, -0.31), (3.78, -0.48), (3.81, -0.54), (3.824, -0.40), (3.839, -0.34), (3.883, -0.43),
    (3.891, -0.60), (3.927, -0.71), (3.957, -0.48), (3.972, -0.60), (3.986, -0.71), (3.994, -0.48),
    (4.016, -0.68), (4.045, -0.71), (4.053, -0.43), (4.082, -0.31), (4.082, -0.51), (4.119, -0.40),
    (4.141, -0.40), (4.178, -0.51), (4.193, -0.60), (4.178, -0.74), (4.134, -0.82), (4.127, -0.91),
    (4.222, -0.91), (4.237, -0.85), (4.267, -1.01), (4.296, -1.15), (4.326, -0.91), (4.355, -0.96),
    (4.001, -0.88), (4.001, -0.99), (3.913, -0.88), (3.795, -0.79), (3.75, -0.88), (3.706, -0.82),
    (3.632, -0.91), (3.573, -0.96), (3.485, -0.79), (3.47, -0.88), (3.397, -0.85), (3.389, -0.91),
    (3.426, -1.19), (3.559, -1.11), (3.625, -1.02), (3.647, -1.25), (3.736, -1.16), (3.795, -1.15),
    (3.913, -1.11), (4.06, -1.13), (4.141, -1.19), (3.514, -0.71), (3.463, -0.74), (3.544, -0.74),
    (1.203, -1.14), (1.375, -1.22), (1.377, -1.02), (1.40, -0.89), (1.466, -1.08), (1.488, -0.91),
    (1.52, -0.81), (1.532, -0.94), (1.562, -0.87), (1.54, -1.11), (1.572, -1.21), (1.584, -0.81),
    (1.621, -0.94), (1.625, -1.05), (1.628, -0.78), (1.661, -1.09), (1.702, -0.87), (1.734, -0.94),
    (1.746, -0.71), (1.768, -0.68), (1.787, -1.02), (1.802, -1.15), (1.813, -0.82), (1.82, -0.68),
    (1.832, -0.96), (1.842, -1.05), (1.864, -0.88), (1.916, -1.05), (1.909, -0.65), (1.916, -0.77),
    (1.938, -0.68), (1.953, -1.05), (1.96, -1.22), (1.82, -0.57),
]

grey = '#a0a0a0'
red = '#cd001f'


def unpack(points):
    lx = np.array([p[0] for p in points])
    lfc = np.array([p[1] for p in points])
    return 10 ** lx, lfc


fig = plt.figure(figsize=(13.44, 9.6), dpi=100)
ax = fig.add_axes([157 / 1344, 1 - 763 / 960, 1106 / 1344, 606 / 960])
ax.set_xscale('log')

for pts in (nonsig_low, nonsig_mid, nonsig_high):
    x, y = unpack(pts)
    ax.scatter(x, y, s=27, color=grey, edgecolors='none', zorder=2)
for pts in (sig_up, sig_down):
    x, y = unpack(pts)
    ax.scatter(x, y, s=27, color=red, edgecolors='none', zorder=2)

ax.scatter(10 ** np.array(capped_up_log10), [lfc_cap] * len(capped_up_log10), marker='^', s=64,
           facecolors='none', edgecolors=red, linewidths=1.5, zorder=2)
ax.scatter(10 ** np.array(capped_down_log10), [-lfc_cap] * len(capped_down_log10), marker='v', s=64,
           facecolors='none', edgecolors=red, linewidths=1.5, zorder=2)

ax.axhline(0, color='#5a5a5a', lw=5.8, zorder=3)
for h in (1, -1):
    ax.axhline(h, color='black', lw=1.5, ls=(0, (5, 4.5)), zorder=4)

ax.set_xlim(10 ** 0.522, 10 ** 5.416)
ax.set_ylim(-5.15, 5.15)
ax.set_xticks([10, 100, 1000, 10000, 100000])
ax.set_xticklabels(['10', '100', '1000', '10000', '100000'])
ax.xaxis.set_minor_locator(NullLocator())
ax.set_yticks([-4, -2, 0, 2, 4])
ax.set_yticklabels(['-4', '-2', '0', '2', '4'])

ax.tick_params(length=13.7, width=1.4, labelsize=23, colors='black')
ax.xaxis.set_tick_params(pad=31.5)
ax.yaxis.set_tick_params(pad=27.5)
for lab in ax.get_xticklabels():
    lab.set_va('center')
for lab in ax.get_yticklabels():
    lab.set_rotation(90)
    lab.set_ha('center')
    lab.set_va('center')
for sp in ax.spines.values():
    sp.set_linewidth(1.4)

fig.text(710 / 1344, 1 - 83 / 960, 'MA Plot \u2014 Treatment vs Control (shrunken LFC)',
         fontsize=27.6, fontweight='bold', ha='center', va='center')
fig.text(710 / 1344, 1 - 903 / 960, 'mean of normalized counts', fontsize=23, ha='center', va='center')
fig.text(27 / 1344, 1 - 460 / 960, 'log2 Fold Change', fontsize=23, rotation=90, ha='center', va='center')

fig.savefig('out.png', dpi=100)
